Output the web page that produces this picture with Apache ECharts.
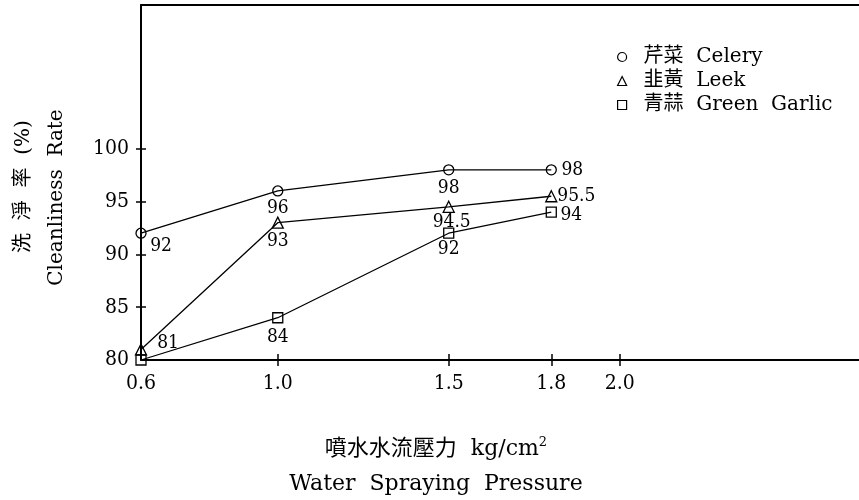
<!DOCTYPE html>
<html>
<head>
<meta charset="utf-8">
<script src="https://cdn.jsdelivr.net/npm/echarts@6/dist/echarts.min.js"></script>
<style>
  html, body { margin: 0; padding: 0; background: #fff; }
  #chart { width: 859px; height: 500px; }
</style>
</head>
<body>
<div id="chart"></div>
<script>
// 數據
const pressure = [0.6, 1.0, 1.5, 1.8];
const celery = [92, 96, 98, 98];
const leek = [81, 93, 94.5, 95.5];
const garlic = [80, 84, 92, 94];
const xTickLabels = [0.6, 1.0, 1.5, 1.8, 2.0];
const yTickLabels = [80, 85, 90, 95, 100];
const seriesNames = ['芹菜  Celery', '韭黃  Leek', '青蒜  Green  Garlic'];

// 每個點的數值標籤位置 (偏移)
const celeryOffsets = [[20, 13], [0, 17], [0, 18], [21, 0]];
const leekOffsets = [[27, -6], [0, 18], [3, 15], [25, 0]];
const garlicOffsets = [null, [0, 19], [0, 16], [20, 3]];

const serif = 'DejaVu Serif, Noto Sans CJK TC';
const numFont = 'DejaVu Serif Condensed, DejaVu Serif';

const buildData = (values, offsets) =>
  values.map((v, i) => ({
    value: [pressure[i], v],
    label: offsets[i]
      ? { show: true, position: 'inside', offset: offsets[i] }
      : { show: false }
  }));

const makeSeries = (name, symbol, values, offsets) => ({
  name,
  type: 'line',
  symbol,
  symbolSize: symbol === 'triangle' ? 11 : 10,
  data: buildData(values, offsets),
  lineStyle: { color: '#000', width: 1.3 },
  itemStyle: { color: 'rgba(0,0,0,0)', borderColor: '#000', borderWidth: 1.3 },
  label: {
    color: '#000',
    fontFamily: numFont,
    fontSize: 19,
    formatter: (p) => String(p.value[1])
  },
  emphasis: { disabled: true },
  z: 3
});

const chart = echarts.init(document.getElementById('chart'));
const option = {
  animation: false,
  backgroundColor: '#fff',
  grid: { left: 141, right: 0, top: 5, bottom: 140, containLabel: false, outerBoundsMode: 'none' },
  legend: {
    orient: 'vertical',
    left: 612,
    top: 42,
    itemWidth: 9,
    itemHeight: 9,
    itemGap: 4,
    textStyle: { color: '#000', fontFamily: serif, fontSize: 20, padding: [0, 0, 0, 12] },
    data: [
      { name: seriesNames[0], icon: 'circle' },
      { name: seriesNames[1], icon: 'triangle' },
      { name: seriesNames[2], icon: 'rect' }
    ],
    itemStyle: { color: '#fff', borderColor: '#000', borderWidth: 1.2 },
    lineStyle: { opacity: 0 }
  },
  xAxis: [
    {
      type: 'value',
      min: 0.6,
      max: 2.7,
      position: 'bottom',
      axisLine: { lineStyle: { color: '#000', width: 2 } },
      axisTick: { show: true, length: 6, customValues: [1.0, 1.5, 1.8, 2.0], lineStyle: { color: '#000', width: 1.5 } },
      axisLabel: {
        customValues: xTickLabels,
        formatter: (v) => v.toFixed(1),
        color: '#000',
        fontFamily: numFont,
        fontSize: 21,
        margin: 13
      },
      splitLine: { show: false },
      name: '噴水水流壓力  kg/cm{sup|2}\nWater  Spraying  Pressure',
      nameLocation: 'middle',
      nameGap: 72,
      nameTextStyle: {
        color: '#000',
        fontFamily: serif,
        fontSize: 22,
        lineHeight: 35,
        padding: [0, 128, 0, 0],
        rich: { sup: { fontSize: 13, lineHeight: 20, padding: [0, 0, 14, 0], fontFamily: serif, color: '#000' } }
      }
    },
    {
      type: 'value',
      min: 0.6,
      max: 2.7,
      position: 'bottom',
      axisLine: { show: false },
      axisTick: { show: true, inside: true, length: 6, customValues: [1.0, 1.5, 1.8, 2.0], lineStyle: { color: '#000', width: 1.5 } },
      axisLabel: { show: false },
      splitLine: { show: false }
    },
    {
      type: 'value',
      min: 0.6,
      max: 2.7,
      position: 'top',
      axisLine: { lineStyle: { color: '#000', width: 2 } },
      axisTick: { show: false },
      axisLabel: { show: false },
      splitLine: { show: false }
    }
  ],
  yAxis: [
    {
      type: 'value',
      min: 80,
      max: 113.6,
      position: 'left',
      axisLine: { lineStyle: { color: '#000', width: 2 } },
      axisTick: { show: true, length: 5, customValues: yTickLabels.slice(1), lineStyle: { color: '#000', width: 1.5 } },
      axisLabel: {
        customValues: yTickLabels,
        color: '#000',
        fontFamily: numFont,
        fontSize: 21,
        margin: 12
      },
      splitLine: { show: false },
      name: 'Cleanliness  Rate',
      nameLocation: 'middle',
      nameRotate: 90,
      nameGap: 74,
      nameTextStyle: { color: '#000', fontFamily: serif, fontSize: 20, padding: [0, 30, 0, 0] }
    },
    {
      type: 'value',
      min: 80,
      max: 113.6,
      position: 'left',
      axisLine: { show: false },
      axisTick: { show: true, inside: true, length: 5, customValues: yTickLabels.slice(1), lineStyle: { color: '#000', width: 1.5 } },
      axisLabel: { show: false },
      splitLine: { show: false },
      name: '洗  淨  率  (%)',
      nameLocation: 'middle',
      nameRotate: 90,
      nameGap: 107,
      nameTextStyle: { color: '#000', fontFamily: serif, fontSize: 20, padding: [0, 8, 0, 0] }
    }
  ],
  series: [
    makeSeries(seriesNames[0], 'circle', celery, celeryOffsets),
    makeSeries(seriesNames[1], 'triangle', leek, leekOffsets),
    makeSeries(seriesNames[2], 'rect', garlic, garlicOffsets)
  ]
};
chart.setOption(option);
</script>
</body>
</html>
